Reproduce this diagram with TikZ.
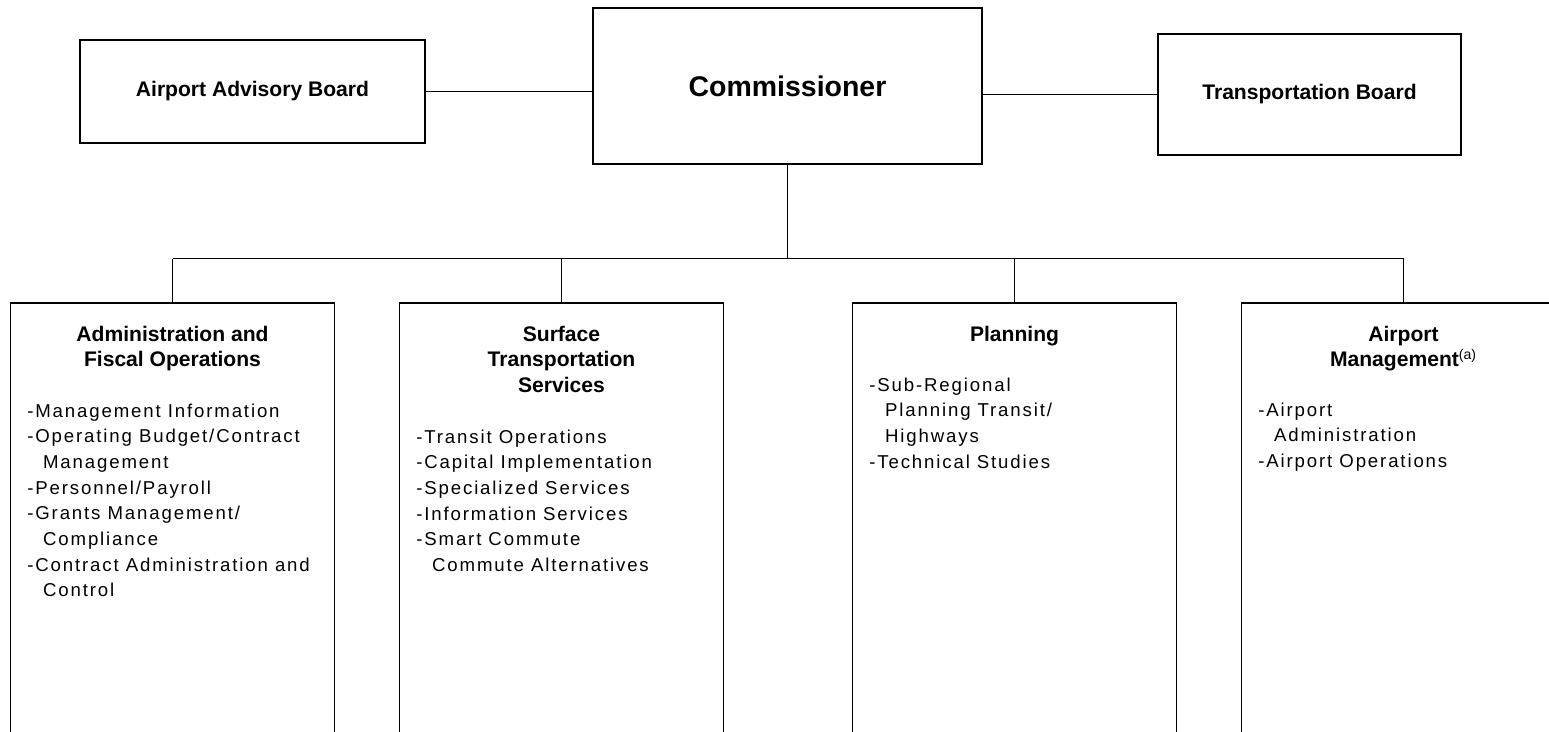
\documentclass[tikz,border=0pt]{standalone}
\usepackage{fontspec}
\setmainfont{Liberation Sans}
\newfontfamily\spacedfont[LetterSpace=10]{Liberation Sans}
\usetikzlibrary{positioning}
\newcommand{\cont}{\hspace*{9pt}}
\tikzset{
  every picture/.style={line width=0.9pt},
  orgbox/.style={draw, rectangle, inner sep=0pt, align=center, font=\bfseries\fontsize{12}{14.6}\selectfont},
  unitbox/.style={draw, rectangle, minimum width=6.48cm, minimum height=9.4cm, anchor=north},
  head/.style={font=\bfseries\fontsize{12}{14.6}\selectfont, align=center, inner sep=0pt, anchor=north},
  duties/.style={font=\spacedfont\fontsize{10.6}{14.6}\selectfont, align=left, inner sep=0pt, anchor=north west},
  link/.style={line width=0.6pt},
}

\begin{document}
\begin{tikzpicture}[x=0.02cm, y=-0.02cm]
  \useasboundingbox (0,0) rectangle (1549,731);
  \clip (0,0) rectangle (1549,731);
  % top row
  \node[orgbox, minimum width=7.78cm, minimum height=3.12cm, font=\bfseries\fontsize{16.2}{19}\selectfont] (comm) at (787.5,86) {Commissioner};
  \node[orgbox, minimum width=6.9cm, minimum height=2.06cm] (aab) at (252.5,91.5) {Airport Advisory Board};
  \node[orgbox, minimum width=6.06cm, minimum height=2.42cm] (tb) at (1309.5,94.5) {Transportation Board};
  \draw[link] (aab.east) -- (aab.east -| comm.west);
  \draw[link] (tb.west) -- (tb.west -| comm.east);
  % divisions
  \node[unitbox] (adm) at (172.5,302) {};
  \node[unitbox] (sts) at (561.5,302) {};
  \node[unitbox] (pln) at (1014.5,302) {};
  \node[unitbox] (apm) at (1403.5,302) {};
  \coordinate (busy) at (0,258.5);
  \coordinate (bus) at (comm.south |- busy);
  \draw[link] (comm.south) -- (bus);
  \draw[link] (adm.north |- busy) -- (apm.north |- busy);
  \foreach \d in {adm,sts,pln,apm} \draw[link] (\d.north |- busy) -- (\d.north);
  % headings and duties
  \node[head] (adm-h) at (172.5,325) {Administration and\\Fiscal Operations};
  \node[duties] (adm-d) at (26.5,403) {-Management Information\\
    -Operating Budget/Contract\\\cont Management\\-Personnel/Payroll\\
    -Grants Management/\\\cont Compliance\\-Contract Administration and\\\cont Control};
  \node[head] (sts-h) at (561.5,325) {Surface\\Transportation\\Services};
  \node[duties] (sts-d) at (415.5,429) {-Transit Operations\\-Capital Implementation\\
    -Specialized Services\\-Information Services\\-Smart Commute\\\cont Commute Alternatives};
  \node[head] (pln-h) at (1014.5,325) {Planning};
  \node[duties] (pln-d) at (868.5,377) {-Sub-Regional\\\cont Planning Transit/\\\cont Highways\\-Technical Studies};
  \node[head] (apm-h) at (1403.5,325) {Airport\\Management{\mdseries\textsuperscript{(a)}}};
  \node[duties] (apm-d) at (1257.5,402) {-Airport\\\cont Administration\\-Airport Operations};
\end{tikzpicture}
\end{document}
